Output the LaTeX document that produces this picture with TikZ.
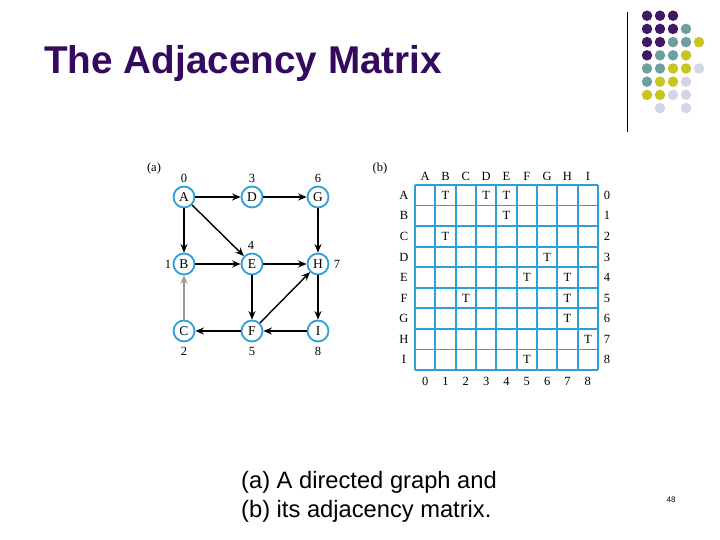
\documentclass[tikz,border=0pt]{standalone}
\usepackage{fontspec}
\setmainfont{Liberation Serif}
\newfontfamily\arialfont{Liberation Sans}
\usetikzlibrary{arrows.meta}
\definecolor{titlepurple}{HTML}{330A5E}
\definecolor{gblue}{HTML}{2D9FD8}
\definecolor{dP}{HTML}{3F1A63}
\definecolor{dT}{HTML}{6E9FA0}
\definecolor{dY}{HTML}{C6C61E}
\definecolor{dL}{HTML}{D4D4E8}
\tikzset{
  vtx/.style={circle,draw=gblue,line width=1.8pt,minimum size=21pt,inner sep=0pt,font=\fontsize{13.5}{13.5}\selectfont},
  lbl/.style={font=\fontsize{12.5}{12.5}\selectfont,inner sep=0pt},
  edge/.style={line width=1.4pt,-{Stealth[length=8.5pt,width=7pt]}},
  gridln/.style={draw=gblue,line width=1.8pt},
  mtxt/.style={font=\fontsize{12.5}{12.5}\selectfont,inner sep=0pt},
  dot/.style={circle,inner sep=0pt,minimum size=10.5pt}
}
\begin{document}
\begin{tikzpicture}[x=1pt,y=-1pt]
\useasboundingbox (0,0) rectangle (720,540);
% title
\node[anchor=base west,inner sep=0pt,text=titlepurple,font=\arialfont\bfseries\fontsize{38.7}{38.7}\selectfont] (title) at (44,74) {The Adjacency Matrix};
% decoration
\draw[line width=0.8pt] (627,12) -- (627,132);
\foreach \r/\list in {1/{1/dP,2/dP,3/dP},2/{1/dP,2/dP,3/dP,4/dT},3/{1/dP,2/dP,3/dT,4/dT,5/dY},4/{1/dP,2/dT,3/dT,4/dY},5/{1/dT,2/dT,3/dY,4/dY,5/dL},6/{1/dT,2/dY,3/dY,4/dL},7/{1/dY,2/dY,3/dL,4/dL},8/{2/dL,4/dL}}{
  \foreach \c/\col in \list {
    \node[dot,fill=\col] at ({647+13*(\c-1)},{15.7+13.2*(\r-1)}) {};
  }
}
% graph
\node[lbl] (la) at (154,168) {(a)};
\node[vtx] (A) at (184,197) {A};
\node[vtx] (D) at (252,197) {D};
\node[vtx] (G) at (318,197) {G};
\node[vtx] (B) at (184,264) {B};
\node[vtx] (E) at (252,264) {E};
\node[vtx] (H) at (318,264) {H};
\node[vtx] (C) at (184,331) {C};
\node[vtx] (F) at (252,331) {F};
\node[vtx] (I) at (318,331) {I};
\node[lbl] (n0) at (184,178) {0};
\node[lbl] (n3) at (252,178) {3};
\node[lbl] (n6) at (318,178) {6};
\node[lbl] (n4) at (251,245) {4};
\node[lbl] (n1) at (168,264) {1};
\node[lbl] (n7) at (337,264) {7};
\node[lbl] (n2) at (184,351) {2};
\node[lbl] (n5) at (252,351) {5};
\node[lbl] (n8) at (318,351) {8};
\draw[edge] (A) -- (D);
\draw[edge] (D) -- (G);
\draw[edge] (A) -- (B);
\draw[edge] (A) -- (E);
\draw[edge] (G) -- (H);
\draw[edge] (B) -- (E);
\draw[edge] (E) -- (H);
\draw[edge] (E) -- (F);
\draw[edge] (F) -- (H);
\draw[edge] (H) -- (I);
\draw[edge] (I) -- (F);
\draw[edge] (F) -- (C);
\draw[edge,draw=gray!80,fill=gray!80] (C) -- (B);
% matrix
\node[lbl] (lb) at (380,168) {(b)};
\def\L{415}\def\R{598}\def\T{185}\def\Bt{370}
\foreach \i in {0,...,9} {
  \draw[gridln] ({\L+(\R-\L)*\i/9},\T) -- ({\L+(\R-\L)*\i/9},\Bt);
  \draw[gridln] (\L,{\T+(\Bt-\T)*\i/9}) -- (\R,{\T+(\Bt-\T)*\i/9});
}
\foreach \n [count=\k from 0] in {A,B,C,D,E,F,G,H,I} {
  \node[mtxt] (ch\k) at ({\L+(\R-\L)*(\k+0.5)/9},176) {\n};
  \node[mtxt] (rh\k) at (404,{\T+(\Bt-\T)*(\k+0.5)/9}) {\n};
  \node[mtxt] (rn\k) at (607,{\T+(\Bt-\T)*(\k+0.5)/9}) {\k};
  \node[mtxt] (cn\k) at ({\L+(\R-\L)*(\k+0.5)/9},381) {\k};
}
\foreach \r/\c in {0/1,0/3,0/4,1/4,2/1,3/6,4/5,4/7,5/2,5/7,6/7,7/8,8/5} {
  \node[mtxt] at ({\L+(\R-\L)*(\c+0.5)/9},{\T+(\Bt-\T)*(\r+0.5)/9}) {T};
}
% caption
\node[anchor=base west,inner sep=0pt,align=left,font=\arialfont\fontsize{23.7}{29}\selectfont] (cap) at (241,517) {(a) A directed graph and\\(b) its adjacency matrix.};
\node[inner sep=0pt,font=\arialfont\fontsize{8}{8}\selectfont] (pg) at (671,500) {48};
\end{tikzpicture}
\end{document}
